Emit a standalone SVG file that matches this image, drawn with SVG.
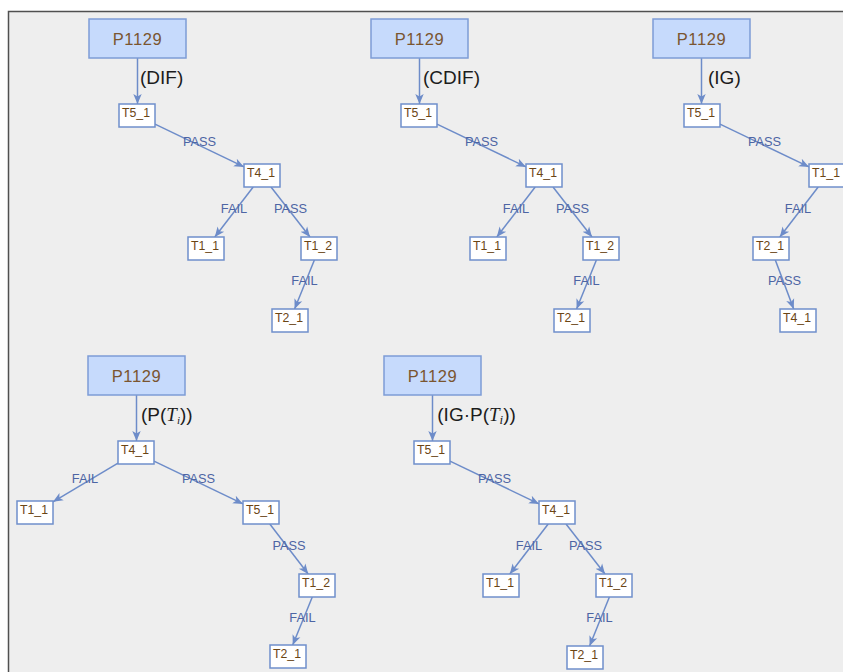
<svg xmlns="http://www.w3.org/2000/svg" width="843" height="672" viewBox="0 0 843 672">
  <defs>
    <marker id="arrow" markerUnits="userSpaceOnUse" markerWidth="10" markerHeight="10" viewBox="0 0 10 10" refX="10" refY="5" orient="auto">
      <path d="M0,0.8 L10,5 L0,9.2 L2.6,5 z" fill="#6d8cc9"/>
    </marker>
  </defs>
  <style>
    .frame { fill: #eeeeee; stroke: #505050; stroke-width: 1.5; }
    .root rect { fill: #c6dafc; stroke: #7d9cd6; stroke-width: 1.5; }
    .root text { font-family: "Liberation Sans", Arial, sans-serif; font-size: 16.5px; letter-spacing: 0.6px; fill: #7a5530; text-anchor: middle; }
    .leaf rect { fill: #ffffff; stroke: #6f8fcb; stroke-width: 1.5; }
    .leaf text { font-family: "Liberation Sans", Arial, sans-serif; font-size: 12.3px; fill: #6b4514; }
    .edge { fill: none; stroke: #6d8cc9; stroke-width: 1.5; marker-end: url(#arrow); }
    .elabel { font-family: "Liberation Sans", Arial, sans-serif; font-size: 12.8px; fill: #4d65a4; text-anchor: middle; }
    .rlabel { font-family: "Liberation Sans", Arial, sans-serif; font-size: 19px; fill: #1c1c1c; }
    .mi { font-family: "Liberation Serif", "Times New Roman", serif; font-style: italic; }
  </style>

  <rect class="frame" x="8.5" y="11.5" width="860" height="700"/>

  <!-- Tree ordered by DIF -->
  <g id="tree-dif">
    <g id="dif-connectors">
      <path class="edge" d="M137.5,58 V104"/>
      <text class="rlabel" x="140" y="83.5">(DIF)</text>
      <path class="edge" d="M155,124.1 L244,166.9"/>
      <text class="elabel" x="199.5" y="146">PASS</text>
      <path class="edge" d="M253.2,187 L214.8,237"/>
      <text class="elabel" x="234" y="212.5">FAIL</text>
      <path class="edge" d="M271,187 L310,237"/>
      <text class="elabel" x="290.5" y="212.5">PASS</text>
      <path class="edge" d="M314.4,260 L294.6,309"/>
      <text class="elabel" x="304.5" y="285">FAIL</text>
    </g>
    <g id="dif-p1129" class="root"><rect x="89" y="19" width="97" height="39"/><text x="137.5" y="45">P1129</text></g>
    <g id="dif-t5_1" class="leaf"><rect x="119" y="104" width="36" height="23"/><text x="122" y="116.5">T5_1</text></g>
    <g id="dif-t4_1" class="leaf"><rect x="244" y="164" width="36" height="23"/><text x="247" y="176.5">T4_1</text></g>
    <g id="dif-t1_1" class="leaf"><rect x="188" y="237" width="36" height="23"/><text x="191" y="249.5">T1_1</text></g>
    <g id="dif-t1_2" class="leaf"><rect x="301" y="237" width="36" height="23"/><text x="304" y="249.5">T1_2</text></g>
    <g id="dif-t2_1" class="leaf"><rect x="272" y="309" width="36" height="23"/><text x="275" y="321.5">T2_1</text></g>
  </g>

  <!-- Tree ordered by CDIF -->
  <g id="tree-cdif" transform="translate(282,0)">
    <g id="cdif-connectors">
      <path class="edge" d="M137.5,58 V104"/>
      <text class="rlabel" x="141" y="83.5">(CDIF)</text>
      <path class="edge" d="M155,124.1 L244,166.9"/>
      <text class="elabel" x="199.5" y="146">PASS</text>
      <path class="edge" d="M253.2,187 L214.8,237"/>
      <text class="elabel" x="234" y="212.5">FAIL</text>
      <path class="edge" d="M271,187 L310,237"/>
      <text class="elabel" x="290.5" y="212.5">PASS</text>
      <path class="edge" d="M314.4,260 L294.6,309"/>
      <text class="elabel" x="304.5" y="285">FAIL</text>
    </g>
    <g id="cdif-p1129" class="root"><rect x="89" y="19" width="97" height="39"/><text x="137.5" y="45">P1129</text></g>
    <g id="cdif-t5_1" class="leaf"><rect x="119" y="104" width="36" height="23"/><text x="122" y="116.5">T5_1</text></g>
    <g id="cdif-t4_1" class="leaf"><rect x="244" y="164" width="36" height="23"/><text x="247" y="176.5">T4_1</text></g>
    <g id="cdif-t1_1" class="leaf"><rect x="188" y="237" width="36" height="23"/><text x="191" y="249.5">T1_1</text></g>
    <g id="cdif-t1_2" class="leaf"><rect x="301" y="237" width="36" height="23"/><text x="304" y="249.5">T1_2</text></g>
    <g id="cdif-t2_1" class="leaf"><rect x="272" y="309" width="36" height="23"/><text x="275" y="321.5">T2_1</text></g>
  </g>

  <!-- Tree ordered by IG -->
  <g id="tree-ig">
    <g id="ig-connectors">
      <path class="edge" d="M701.5,58 V104"/>
      <text class="rlabel" x="708" y="83.5">(IG)</text>
      <path class="edge" d="M720,124.1 L809,166.9"/>
      <text class="elabel" x="764.5" y="146">PASS</text>
      <path class="edge" d="M818.2,187 L779.8,237"/>
      <text class="elabel" x="798" y="212.5">FAIL</text>
      <path class="edge" d="M775.3,260 L793.7,309"/>
      <text class="elabel" x="784.5" y="285">PASS</text>
    </g>
    <g id="ig-p1129" class="root"><rect x="653" y="19" width="97" height="39"/><text x="701.5" y="45">P1129</text></g>
    <g id="ig-t5_1" class="leaf"><rect x="684" y="104" width="36" height="23"/><text x="687" y="116.5">T5_1</text></g>
    <g id="ig-t1_1" class="leaf"><rect x="809" y="164" width="36" height="23"/><text x="812" y="176.5">T1_1</text></g>
    <g id="ig-t2_1" class="leaf"><rect x="753" y="237" width="36" height="23"/><text x="756" y="249.5">T2_1</text></g>
    <g id="ig-t4_1" class="leaf"><rect x="780" y="309" width="36" height="23"/><text x="783" y="321.5">T4_1</text></g>
  </g>

  <!-- Tree ordered by P(Ti) -->
  <g id="tree-p">
    <g id="p-connectors">
      <path class="edge" d="M136.5,395 V441"/>
      <text class="rlabel" x="141" y="421">(P(<tspan class="mi">T</tspan><tspan class="mi" font-size="11" dy="3">i</tspan><tspan dy="-3">))</tspan></text>
      <path class="edge" d="M118,463.2 L53,501.8"/>
      <text class="elabel" x="85" y="483">FAIL</text>
      <path class="edge" d="M154,461.1 L243,503.9"/>
      <text class="elabel" x="198.5" y="483">PASS</text>
      <path class="edge" d="M269.8,524 L308.2,574"/>
      <text class="elabel" x="289" y="549.5">PASS</text>
      <path class="edge" d="M312.3,597 L292.7,645"/>
      <text class="elabel" x="302.5" y="621.5">FAIL</text>
    </g>
    <g id="p-p1129" class="root"><rect x="88" y="356" width="97" height="39"/><text x="136.5" y="382">P1129</text></g>
    <g id="p-t4_1" class="leaf"><rect x="118" y="441" width="36" height="23"/><text x="121" y="453.5">T4_1</text></g>
    <g id="p-t1_1" class="leaf"><rect x="17" y="501" width="36" height="23"/><text x="20" y="513.5">T1_1</text></g>
    <g id="p-t5_1" class="leaf"><rect x="243" y="501" width="36" height="23"/><text x="246" y="513.5">T5_1</text></g>
    <g id="p-t1_2" class="leaf"><rect x="299" y="574" width="36" height="23"/><text x="302" y="586.5">T1_2</text></g>
    <g id="p-t2_1" class="leaf"><rect x="270" y="645" width="36" height="23"/><text x="273" y="657.5">T2_1</text></g>
  </g>

  <!-- Tree ordered by IG·P(Ti) -->
  <g id="tree-igp" transform="translate(295,337)">
    <g id="igp-connectors">
      <path class="edge" d="M137.5,58 V104"/>
      <text class="rlabel" x="142.3" y="84">(IG·P(<tspan class="mi">T</tspan><tspan class="mi" font-size="13" dy="3">i</tspan><tspan dy="-3">))</tspan></text>
      <path class="edge" d="M155,124.1 L244,166.9"/>
      <text class="elabel" x="199.5" y="146">PASS</text>
      <path class="edge" d="M253.2,187 L214.8,237"/>
      <text class="elabel" x="234" y="212.5">FAIL</text>
      <path class="edge" d="M271,187 L310,237"/>
      <text class="elabel" x="290.5" y="212.5">PASS</text>
      <path class="edge" d="M314.4,260 L294.6,309"/>
      <text class="elabel" x="304.5" y="285">FAIL</text>
    </g>
    <g id="igp-p1129" class="root"><rect x="89" y="19" width="97" height="39"/><text x="137.5" y="45">P1129</text></g>
    <g id="igp-t5_1" class="leaf"><rect x="119" y="104" width="36" height="23"/><text x="122" y="116.5">T5_1</text></g>
    <g id="igp-t4_1" class="leaf"><rect x="244" y="164" width="36" height="23"/><text x="247" y="176.5">T4_1</text></g>
    <g id="igp-t1_1" class="leaf"><rect x="188" y="237" width="36" height="23"/><text x="191" y="249.5">T1_1</text></g>
    <g id="igp-t1_2" class="leaf"><rect x="301" y="237" width="36" height="23"/><text x="304" y="249.5">T1_2</text></g>
    <g id="igp-t2_1" class="leaf"><rect x="272" y="309" width="36" height="23"/><text x="275" y="321.5">T2_1</text></g>
  </g>
</svg>
